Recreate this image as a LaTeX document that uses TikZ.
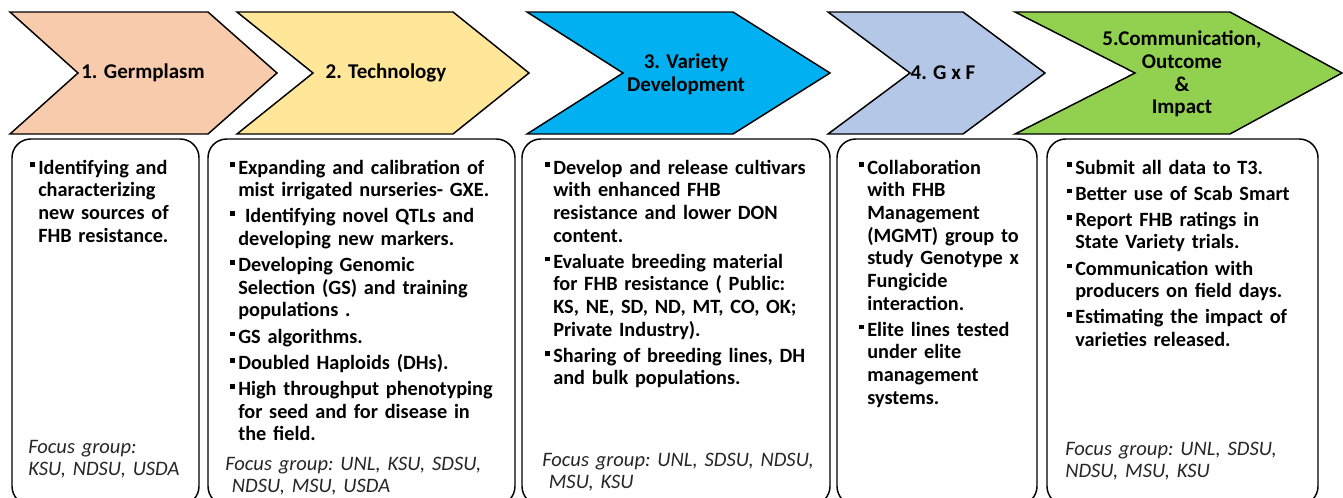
\documentclass[tikz,border=0pt]{standalone}
\usepackage{fontspec}
\setmainfont{Carlito}
\definecolor{cA}{HTML}{F8CBAD}
\definecolor{cB}{HTML}{FFE699}
\definecolor{cC}{HTML}{00B0F0}
\definecolor{cD}{HTML}{B4C7E7}
\definecolor{cE}{HTML}{92D050}
\newcommand\bul{\rule[0.33em]{0.24em}{0.24em}}
\newcommand\setitems{\leftskip=6pt\relax\parskip=2.6pt\relax\parindent=0pt\relax}
\newcommand\bitem{\par\noindent\hspace*{-6pt}\makebox[6pt][l]{\bul}\strut}
\begin{document}
\begin{tikzpicture}[x=0.75pt,y=-0.75pt,
  chev/.style={draw=black, line width=1.1pt, line join=miter},
  box/.style={draw=black, line width=1.1pt, rounded corners=14pt, fill=white},
  lab/.style={font=\bfseries\fontsize{15.75}{17}\selectfont, align=center, inner sep=0pt},
  txt/.style={font=\bfseries\fontsize{15.2}{17}\selectfont, text width=250pt, inner sep=0pt, anchor=north west},
  foc/.style={font=\itshape\fontsize{15.4}{16.5}\selectfont\frenchspacing, text width=250pt, align=left, inner sep=0pt, anchor=north west, text=black!85}]
\useasboundingbox (0,0) rectangle (1343,497);
\clip (0,0) rectangle (1343,497);

% chevrons
\draw[chev, fill=cA] (10,12) -- (208,12) -- (277,73) -- (208,134) -- (10,134) -- (78,73) -- cycle;
\draw[chev, fill=cB] (237,12) -- (453,12) -- (529,73) -- (453,134) -- (237,134) -- (313,73) -- cycle;
\draw[chev, fill=cC] (527,12) -- (733,12) -- (830,73) -- (733,134) -- (527,134) -- (623,73) -- cycle;
\draw[chev, fill=cD] (828,12) -- (963,12) -- (1045,73) -- (963,134) -- (828,134) -- (910,73) -- cycle;
\draw[chev, fill=cE] (1015,12) -- (1230,12) -- (1342,73) -- (1230,134) -- (1015,134) -- (1135,73) -- cycle;

\node[lab] (l1) at (143,73) {1. Germplasm};
\node[lab] (l2) at (386,73) {2. Technology};
\node[lab] (l3) at (686,74) {3. Variety\\Development};
\node[lab] (l4) at (943,73) {4. G x F};
\node[lab] (l5) at (1182,74) {5.Communication,\\Outcome\\\&\\Impact};

% boxes
\draw[box] (12,139) rectangle (199,505);
\draw[box] (208,139) rectangle (515,505);
\draw[box] (522,139) rectangle (830,505);
\draw[box] (837,139) rectangle (1037,505);
\draw[box] (1047,139) rectangle (1318,505);

\node[txt] (t1) at (30,147.6) {\setitems\bitem Identifying and\newline characterizing\newline new sources of\newline FHB resistance.\par};

\node[txt] (t2) at (230,147.6) {\setitems\bitem Expanding and calibration of\newline mist irrigated nurseries- GXE.
\bitem\ Identifying novel QTLs and\newline developing new markers.
\bitem Developing Genomic\newline Selection (GS) and training\newline populations~.
\bitem GS algorithms.
\bitem Doubled Haploids (DHs).
\bitem High throughput phenotyping\newline for seed and for disease in\newline the field.\par};

\node[txt] (t3) at (545,147.6) {\setitems\bitem Develop and release cultivars\newline with enhanced FHB\newline resistance and lower DON\newline content.
\bitem Evaluate breeding material\newline for FHB resistance ( Public:\newline KS, NE, SD, ND, MT, CO, OK;\newline Private Industry).
\bitem Sharing of breeding lines, DH\newline and bulk populations.\par};

\node[txt] (t4) at (859,147.6) {\setitems\bitem Collaboration\newline with FHB\newline Management\newline (MGMT) group to\newline study Genotype x\newline Fungicide\newline interaction.
\bitem Elite lines tested\newline under elite\newline management\newline systems.\par};

\node[txt] (t5) at (1067,147.6) {\setitems\bitem Submit all data to T3.
\bitem Better use of Scab Smart
\bitem Report FHB ratings in\newline State Variety trials.
\bitem Communication with\newline producers on field days.
\bitem Estimating the impact of\newline varieties released.\par};

\node[foc] (f1) at (28,438.1) {\strut Focus group:\newline KSU, NDSU, USDA};
\node[foc] (f2) at (225,455.1) {\strut Focus group: UNL, KSU, SDSU,\newline\hspace*{5pt}NDSU, MSU, USDA};
\node[foc] (f3) at (542,451.1) {\strut Focus group: UNL, SDSU, NDSU,\newline\hspace*{5pt}MSU, KSU};
\node[foc] (f5) at (1065,440.1) {\strut Focus group: UNL, SDSU,\newline NDSU, MSU, KSU};
\end{tikzpicture}
\end{document}
